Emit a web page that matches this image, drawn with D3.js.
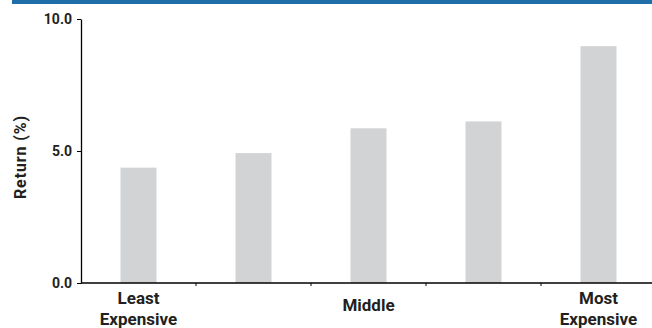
<!DOCTYPE html>
<html><head><meta charset="utf-8">
<script src="https://cdn.jsdelivr.net/npm/d3@7"></script>
<style>
html,body{margin:0;padding:0;background:#fff;}
svg{display:block;font-family:Roboto, "Liberation Sans", sans-serif;}
</style></head>
<body><svg id="c" width="652" height="328"></svg>
<script>
const categories = ["Least Expensive", "2", "Middle", "4", "Most Expensive"];
const categoryLabels = [["Least", "Expensive"], [], ["Middle"], [], ["Most", "Expensive"]];
const values = [4.37, 4.92, 5.86, 6.12, 8.97];
const yTicks = [0, 5, 10];
const yTitle = "Return (%)";

(function() {
const svg = d3.select("#c");
const W = 652, H = 328;
const mLeft = 81, mRight = 656, mTop = 19, mBottom = 283;

svg.append("rect").attr("x", 12).attr("y", 0).attr("width", W - 12).attr("height", 4).attr("fill", "#1f6ea8");

const x = d3.scaleBand().domain(categories).range([mLeft, mRight]).padding(0);
const y = d3.scaleLinear().domain([0, 10]).range([mBottom, mTop]);
const barW = x.bandwidth() * 0.313;

svg.append("g").selectAll("rect").data(values).join("rect")
  .attr("x", (d, i) => x(categories[i]) + x.bandwidth() / 2 - barW / 2)
  .attr("y", d => y(d))
  .attr("width", barW)
  .attr("height", d => y(0) - y(d))
  .attr("fill", "#d1d3d4");

// y axis
const ya = svg.append("g").attr("transform", `translate(${mLeft},0)`)
  .call(d3.axisLeft(y).tickValues(yTicks).tickFormat(d3.format(".1f")).tickSize(4).tickSizeOuter(0));
ya.select(".domain").attr("stroke", "#000").attr("stroke-width", 1.3);
ya.selectAll(".tick line").attr("stroke", "#000");
ya.selectAll(".tick text").attr("font-size", 14).attr("font-weight", 700).attr("fill", "#231f20").attr("x", -9).attr("font-family", "Roboto, sans-serif");

// x axis
const xa = svg.append("g").attr("transform", `translate(0,${mBottom})`);
xa.append("line").attr("x1", mLeft).attr("x2", W).attr("y1", 0).attr("y2", 0).attr("stroke", "#000").attr("stroke-width", 1.3);
xa.selectAll("line.tk").data(categories.slice(1)).join("line").attr("class", "tk")
  .attr("x1", d => x(d)).attr("x2", d => x(d)).attr("y1", 0).attr("y2", 3).attr("stroke", "#000");

const lab = svg.append("g").selectAll("text").data(categories).join("text")
  .attr("x", d => x(d) + x.bandwidth() / 2)
  .attr("text-anchor", "middle").attr("font-size", 17).attr("font-weight", 700).attr("fill", "#231f20");
lab.each(function(d, i) {
  const lines = categoryLabels[i];
  const t = d3.select(this);
  if (lines.length === 1) {
    t.attr("y", 311).text(lines[0]);
  } else if (lines.length === 2) {
    lines.forEach((l, j) => t.append("tspan").attr("x", x(d) + x.bandwidth() / 2).attr("y", 304 + j * 20.5).text(l));
  }
});

svg.append("text").attr("transform", `translate(26,${(mTop + mBottom) / 2 + 6}) rotate(-90)`)
  .attr("text-anchor", "middle").attr("font-size", 16).attr("font-weight", 700).attr("letter-spacing", 0.9)
  .attr("fill", "#231f20").text(yTitle);
})();
</script></body></html>
